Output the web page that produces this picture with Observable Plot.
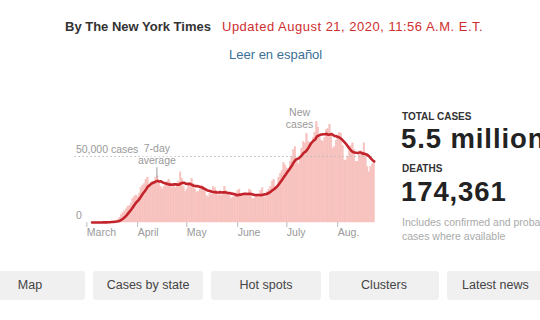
<!DOCTYPE html>
<html>
<head>
<meta charset="utf-8">
<script src="https://cdn.jsdelivr.net/npm/d3@7"></script>
<script src="https://cdn.jsdelivr.net/npm/@observablehq/plot@0.6"></script>
<style>
html, body { margin: 0; padding: 0; background: #fff; }
body { width: 540px; height: 320px; overflow: hidden; position: relative; font-family: "Liberation Sans", Arial, sans-serif; }
.abs { position: absolute; white-space: nowrap; }
.lbl { font-weight: bold; font-size: 10px; line-height: 12px; color: #333; }
.num { font-weight: bold; font-size: 27.5px; line-height: 22px; color: #222; letter-spacing: 0.9px; }
.note { font-size: 10.5px; line-height: 14px; color: #aaa; }
.btn { position: absolute; top: 271px; width: 110px; height: 29px; line-height: 29px; background: #f0f0f0; border-radius: 3px; text-align: center; font-size: 12.5px; color: #444; white-space: nowrap; }
</style>
</head>
<body>
<div class="abs" style="left:65px;top:19px;font-size:13px;line-height:16px;font-weight:bold;color:#333">By The New York Times</div>
<div class="abs" style="left:222px;top:19px;font-size:13px;line-height:16px;letter-spacing:0.5px;color:#cf2e2e">Updated August 21, 2020, 11:56 A.M. E.T.</div>
<div class="abs" style="left:229px;top:47px;font-size:13px;line-height:16px;color:#3b6f96">Leer en español</div>

<div id="chart" class="abs" style="left:60px;top:95px"></div>

<div class="abs lbl" style="left:402px;top:111px">TOTAL CASES</div>
<div class="abs num" style="left:401px;top:127.5px">5.5 million</div>
<div class="abs lbl" style="left:402px;top:162.5px">DEATHS</div>
<div class="abs num" style="left:401px;top:181px">174,361</div>
<div class="abs note" style="left:402px;top:214.5px">Includes confirmed and probable<br>cases where available</div>

<div class="btn" style="left:-25px">Map</div>
<div class="btn" style="left:93px">Cases by state</div>
<div class="btn" style="left:211px">Hot spots</div>
<div class="btn" style="left:329px">Clusters</div>
<div class="btn" style="left:447px;text-align:left;padding-left:15px;box-sizing:border-box">Latest news</div>

<script>
// Daily new U.S. cases, March 1 – August 20, 2020
const marchCases = [20, 25, 25, 30, 70, 80, 100, 120, 190, 300, 400, 500, 700, 800, 1000, 1400, 1900, 3500, 5500, 7000, 8500, 10000, 12000, 12500, 14500, 18000, 19500, 20500, 19500, 22000, 26000];
const aprilCases = [28000, 29000, 32000, 34000, 26000, 30000, 31000, 31000, 34000, 35000, 30000, 27000, 25000, 27000, 29000, 31000, 32000, 30000, 26000, 28000, 26000, 28000, 31000, 38000, 33000, 27000, 23000, 25000, 28000, 30000];
const mayCases = [33000, 29000, 25000, 23000, 23000, 25000, 28000, 27000, 26000, 20000, 19000, 22000, 21000, 27000, 26000, 24000, 20000, 21000, 20000, 22000, 27000, 24000, 22000, 20000, 18000, 19000, 20000, 22000, 24000, 25000, 20000];
const juneCases = [21000, 20000, 20000, 21000, 25000, 24000, 18000, 18000, 19000, 21000, 21000, 24000, 26000, 20000, 19000, 23000, 25000, 27000, 31000, 32000, 27000, 28000, 34000, 37000, 39000, 45000, 43000, 41000, 40000, 46000];
const julyCases = [50000, 55000, 57000, 48000, 44000, 48000, 56000, 61000, 60000, 67000, 61000, 60000, 60000, 64000, 68000, 76000, 72000, 65000, 62000, 61000, 64000, 70000, 71000, 74000, 67000, 56000, 57000, 62000, 66000, 68000, 67000];
const augustCases = [58000, 47000, 47000, 50000, 54000, 58000, 60000, 55000, 46000, 46000, 52000, 54000, 52000, 60000, 52000, 42000, 38000, 42000, 44000, 46000];

const firstDay = "2020-03-01";
const monthTicks = ["2020-03-01", "2020-04-01", "2020-05-01", "2020-06-01", "2020-07-01", "2020-08-01"];
const monthLabels = ["March", "April", "May", "June", "July", "Aug."];
const yTicks = [0, 50000];
const yTickLabels = ["0", "50,000 cases"];

const annotations = [
  {date: "2020-04-10", value: 51500, label: "7-day\naverage", anchor: "middle"},
  {date: "2020-07-06", value: 78900, label: "New\ncases", anchor: "end"}
];

const start = new Date(firstDay);
const allCases = [...marchCases, ...aprilCases, ...mayCases, ...juneCases, ...julyCases, ...augustCases];
const daily = allCases.map((cases, i) => ({date: d3.utcDay.offset(start, i), cases}));
const tickDates = monthTicks.map(d => new Date(d));
const annos = annotations.map(a => ({...a, date: new Date(a.date)}));

const font = '"Liberation Sans", Arial, sans-serif';
const barColor = "#f7c1bd";
const chart = Plot.plot({
  width: 330,
  height: 150,
  marginLeft: 14.4,
  marginRight: 15.5,
  marginTop: 21.4,
  marginBottom: 23,
  x: {type: "utc", domain: [new Date("2020-02-20"), new Date("2020-08-21")]},
  y: {domain: [0, 80000], axis: null},
  style: {fontFamily: font, fontSize: "10.5px", color: "#999", background: "transparent", overflow: "visible"},
  marks: [
    Plot.rectY(daily, {x: "date", y: "cases", interval: "day", fill: barColor, stroke: barColor, strokeWidth: 0.4, inset: 0}),
    Plot.ruleY([50000], {stroke: "#bbb", strokeDasharray: "1.5,2.5"}),
    Plot.ruleX([annos[0]], {x: "date", y1: 33500, y2: 41500, stroke: "#999"}),
    Plot.ruleY([annos[1]], {x1: d => d3.utcDay.offset(d.date, 2), x2: d => d3.utcDay.offset(d.date, 6), y: 74000, stroke: "#999"}),
    Plot.lineY(daily, Plot.windowY({k: 7, anchor: "end"}, {x: d => d3.utcHour.offset(d.date, 12), y: "cases", stroke: "#c3232b", strokeWidth: 2.6})),
    Plot.axisX({ticks: tickDates, tickFormat: d => monthLabels[tickDates.findIndex(t => +t === +d)], tickSize: 5, tickPadding: 1, textAnchor: "start", dx: -4.5, stroke: "#bbb", fill: "#999", fontSize: 10.5}),
    Plot.text(yTicks, {y: d => d, text: (d, i) => yTickLabels[i], frameAnchor: "left", textAnchor: "start", lineAnchor: "bottom", dx: 1, dy: -4, fill: "#999", fontSize: 10.5}),
    Plot.text(annos, {x: "date", y: "value", text: "label", textAnchor: d => d.anchor, lineAnchor: "middle", lineHeight: 1.15, fill: "#999", stroke: "white", strokeWidth: 3, fontSize: 10.5})
  ]
});
document.getElementById("chart").appendChild(chart);
</script>
</body>
</html>
